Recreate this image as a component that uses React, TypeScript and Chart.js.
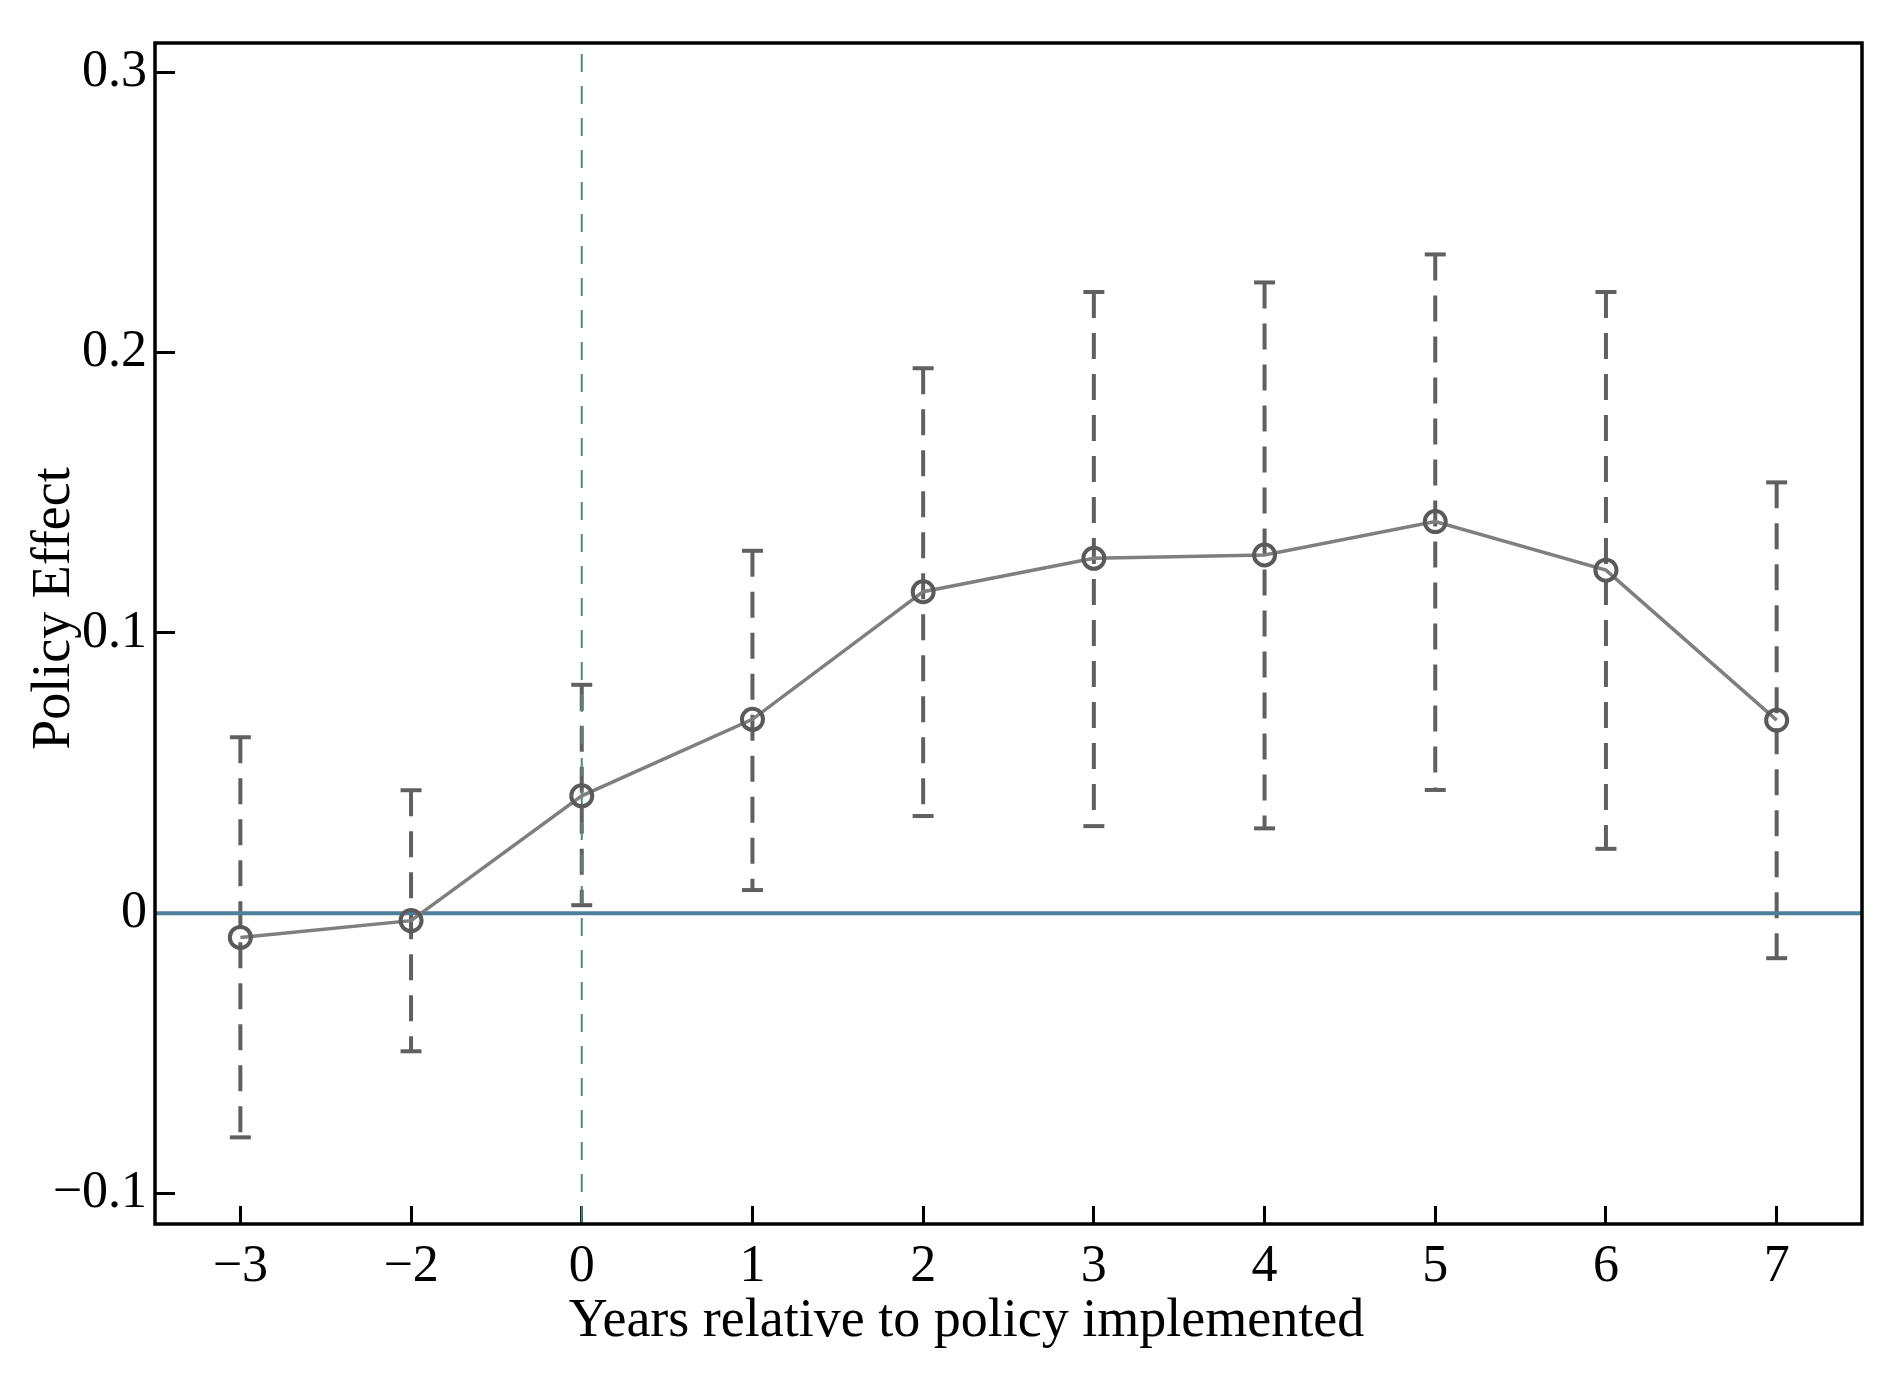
import React, { useEffect, useRef } from "react";
import Chart from "chart.js/auto";

// event-study estimates
const yearLabels = ["−3", "−2", "0", "1", "2", "3", "4", "5", "6", "7"];
const effect = [-0.0086, -0.0026, 0.0419, 0.0692, 0.1147, 0.1266, 0.1278, 0.1397, 0.1224, 0.0689];
const ciUpper = [0.0628, 0.0439, 0.0815, 0.1293, 0.1944, 0.2216, 0.225, 0.235, 0.2216, 0.1537];
const ciLower = [-0.0799, -0.0492, 0.0029, 0.0083, 0.0347, 0.0311, 0.0303, 0.044, 0.023, -0.016];
const yTicks = [-0.1, 0, 0.1, 0.2, 0.3];
const policyYear = "0";
const xTitle = "Years relative to policy implemented";
const yTitle = "Policy Effect";

const Y_MIN = -0.1108;
const Y_MAX = 0.3104;
const X_MIN = -0.5;
const X_MAX = yearLabels.length - 0.5;

const serif = '"Liberation Serif", "Times New Roman", serif';

// box around the plot + axis titles
const framePlugin = {
  id: "frame",
  afterDraw(chart: any) {
    const { ctx, chartArea } = chart;
    const { left, top, right, bottom } = chartArea;
    ctx.save();
    ctx.strokeStyle = "#000";
    ctx.lineWidth = 3.5;
    ctx.strokeRect(left, top, right - left, bottom - top);

    ctx.fillStyle = "#000";
    ctx.font = `54px ${serif}`;
    ctx.textAlign = "center";
    ctx.textBaseline = "alphabetic";
    ctx.fillText(xTitle, (left + right) / 2 - 42, bottom + 112);

    ctx.translate(left - 86, (top + bottom) / 2 - 25);
    ctx.rotate(-Math.PI / 2);
    ctx.fillText(yTitle, 0, 0);
    ctx.restore();
  },
};

const EventStudyChart: React.FC = () => {
  const canvasRef = useRef<HTMLCanvasElement>(null);

  useEffect(() => {
    const ctx = canvasRef.current?.getContext("2d");
    if (!ctx) return;

    const policyIdx = yearLabels.indexOf(policyYear);
    const ciData = yearLabels.flatMap((_, i) => [
      { x: i, y: ciUpper[i] },
      { x: i, y: ciLower[i] },
      { x: i, y: null },
    ]);

    const chart = new Chart(ctx, {
      type: "line",
      data: {
        datasets: [
          {
            label: "effect",
            data: effect.map((y, i) => ({ x: i, y })),
            borderColor: "#7f7f7f",
            borderWidth: 3.5,
            tension: 0,
            pointStyle: "circle",
            pointRadius: 10.5,
            pointBorderWidth: 4,
            pointBorderColor: "#5a5a5a",
            pointBackgroundColor: "rgba(0,0,0,0)",
          },
          {
            label: "zero",
            data: [
              { x: X_MIN, y: 0 },
              { x: X_MAX, y: 0 },
            ],
            borderColor: "#4c7f9b",
            borderWidth: 4,
            pointRadius: 0,
          },
          {
            label: "policy",
            data: [
              { x: policyIdx, y: Y_MIN },
              { x: policyIdx, y: Y_MAX },
            ],
            borderColor: "#4f8a84",
            borderWidth: 2,
            borderDash: [18, 14],
            pointRadius: 0,
          },
          {
            label: "ci",
            data: ciData as any,
            borderColor: "#606060",
            borderWidth: 4,
            borderDash: [26, 15],
            spanGaps: false,
            pointStyle: "line",
            pointRadius: 10.5,
            pointBorderWidth: 4,
            pointBorderColor: "#606060",
          },
        ],
      },
      options: {
        responsive: true,
        maintainAspectRatio: false,
        animation: false,
        events: [],
        layout: { padding: { left: 0, top: 43, right: 27, bottom: 0 } },
        scales: {
          x: {
            type: "linear",
            min: X_MIN,
            max: X_MAX,
            afterBuildTicks: (s: any) => {
              s.ticks = yearLabels.map((_, i) => ({ value: i }));
            },
            afterFit: (s: any) => {
              s.height = 153;
              s.paddingLeft = 0;
              s.paddingRight = 0;
            },
            border: { display: false },
            grid: {
              drawOnChartArea: false,
              drawTicks: true,
              tickLength: -18,
              tickWidth: 3,
              tickColor: "#000",
            },
            ticks: {
              callback: (v: any) => yearLabels[v as number],
              font: { family: serif, size: 52 },
              color: "#000",
              padding: 30,
              maxRotation: 0,
              autoSkip: false,
            },
          },
          y: {
            type: "linear",
            min: Y_MIN,
            max: Y_MAX,
            afterBuildTicks: (s: any) => {
              s.ticks = yTicks.map((v) => ({ value: v }));
            },
            afterFit: (s: any) => {
              s.width = 155;
              s.paddingTop = 0;
              s.paddingBottom = 0;
            },
            border: { display: false },
            grid: {
              drawOnChartArea: false,
              drawTicks: true,
              tickLength: -20,
              tickWidth: 3,
              tickColor: "#000",
            },
            ticks: {
              callback: (v: any) =>
                v === 0 ? "0" : Number(v).toFixed(1).replace("-", "−"),
              font: { family: serif, size: 52 },
              color: "#000",
              padding: 28,
            },
          },
        },
        plugins: {
          legend: { display: false },
          tooltip: { enabled: false },
        },
      },
      plugins: [framePlugin],
    });

    return () => {
      chart.destroy();
    };
  }, []);

  return (
    <div style={{ position: "absolute", left: 0, top: 0, width: 1889, height: 1377, background: "#fff" }}>
      <canvas ref={canvasRef}></canvas>
    </div>
  );
};

export default function App() {
  return <EventStudyChart />;
}
